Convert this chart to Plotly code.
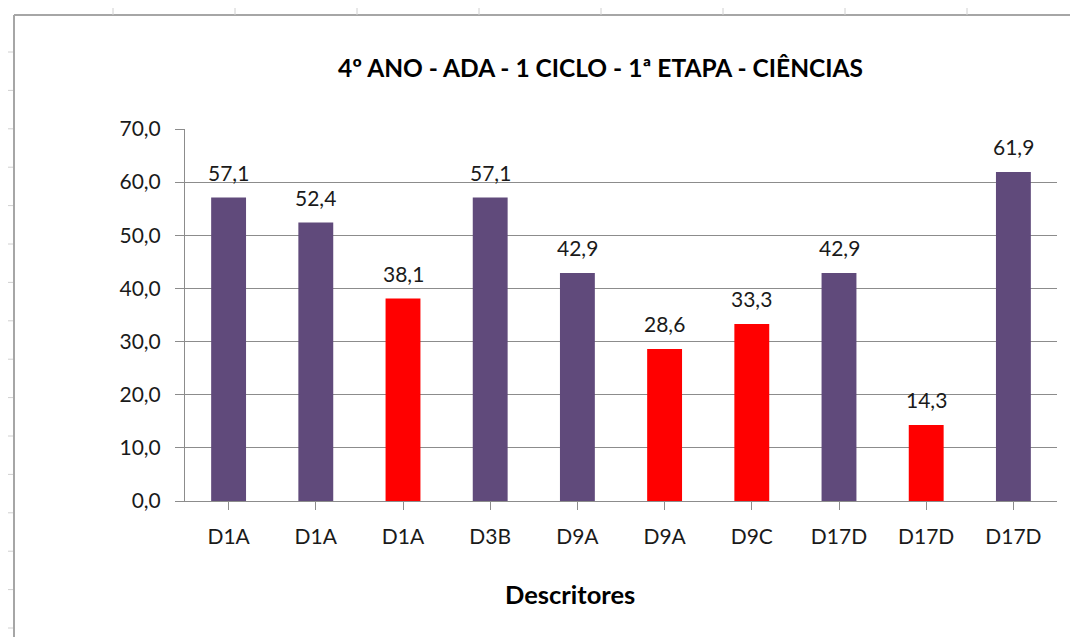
import plotly.graph_objects as go

categories = ["D1A", "D1A", "D1A", "D3B", "D9A", "D9A", "D9C", "D17D", "D17D", "D17D"]
values = [57.1, 52.4, 38.1, 57.1, 42.9, 28.6, 33.3, 42.9, 14.3, 61.9]
bar_colors = ["#604A7B", "#604A7B", "#FF0000", "#604A7B", "#604A7B",
              "#FF0000", "#FF0000", "#604A7B", "#FF0000", "#604A7B"]
y_ticks = [0, 10, 20, 30, 40, 50, 60, 70]

# the page body has an 8px margin; lay out in page pixels and shift
O = 8
W, H = 1078 - O, 637 - O
PL, PR, PT, PB = 185, 1057, 129, 501  # plot area in page pixels
L, T = PL - O, PT - O
R, B = W - (PR - O), H - (PB - O)
PW, PH = PR - PL, PB - PT
FONT = "Lato, 'Open Sans', sans-serif"
TXT = "#1a1a1a"
GRID = "#8c8c8c"

xs = list(range(len(categories)))

fig = go.Figure()
fig.add_trace(go.Bar(
    x=xs, y=values, marker=dict(color=bar_colors, line=dict(width=0)),
    width=0.4, hoverinfo="skip", showlegend=False,
))

for x, v in zip(xs, values):
    fig.add_annotation(
        x=x, y=v, text=f"{v:.1f}".replace(".", ","), showarrow=False,
        yanchor="bottom", yshift=11, font=dict(family=FONT, size=21, color=TXT),
    )

def px_x(p):
    return (p - PL) / PW

def px_y(p):
    return 1 - (p - PT) / PH

shapes = []
shapes.append(dict(type="line", xref="paper", yref="paper",
                   x0=px_x(14), x1=px_x(14), y0=px_y(640), y1=px_y(15),
                   line=dict(color="#a6a6a6", width=2)))
shapes.append(dict(type="line", xref="paper", yref="paper",
                   x0=px_x(14), x1=px_x(1080), y0=px_y(15), y1=px_y(15),
                   line=dict(color="#a6a6a6", width=2)))
for gx in [113, 235, 357, 479, 601, 723, 845, 967]:
    shapes.append(dict(type="line", xref="paper", yref="paper",
                       x0=px_x(gx), x1=px_x(gx), y0=px_y(8), y1=px_y(15),
                       line=dict(color="#d0d0d0", width=1)))
for k in range(16):
    gy = 52 + k * 38.4
    shapes.append(dict(type="line", xref="paper", yref="paper",
                       x0=px_x(8), x1=px_x(13), y0=px_y(gy), y1=px_y(gy),
                       line=dict(color="#d0d0d0", width=1)))

fig.update_layout(
    width=W, height=H,
    margin=dict(l=L, r=R, t=T, b=B, pad=0),
    paper_bgcolor="white", plot_bgcolor="white",
    separators=",.",
    shapes=shapes,
    font=dict(family=FONT, color=TXT),
)

fig.add_annotation(
    text="<b>4º ANO - ADA - 1 CICLO - 1ª ETAPA - CIÊNCIAS</b>",
    xref="paper", yref="paper", x=px_x(600), y=px_y(68),
    showarrow=False, font=dict(family=FONT, size=24.5, color="#000000"),
    xanchor="center", yanchor="middle",
)
fig.add_annotation(
    text="<b>Descritores</b>",
    xref="paper", yref="paper", x=px_x(570), y=px_y(594),
    showarrow=False, font=dict(family=FONT, size=25.5, color="#000000"),
    xanchor="center", yanchor="middle",
)

fig.update_xaxes(
    range=[-0.5, len(categories) - 0.5],
    tickvals=xs, ticktext=categories,
    ticks="outside", tickson="boundaries", ticklen=8, tickcolor=GRID,
    ticklabelstandoff=9,
    showline=True, linecolor=GRID, linewidth=1,
    showgrid=False, zeroline=False,
    tickfont=dict(family=FONT, size=21, color=TXT),
    fixedrange=True,
)
fig.update_yaxes(
    range=[0, 70], tickvals=y_ticks, tickformat=".1f",
    ticks="outside", ticklen=9, tickcolor=GRID,
    ticklabelstandoff=10,
    showline=True, linecolor=GRID, linewidth=1,
    showgrid=True, gridcolor=GRID, gridwidth=1,
    zeroline=False,
    tickfont=dict(family=FONT, size=21, color=TXT),
    fixedrange=True,
)

fig.write_html("out.html", config={"displayModeBar": False})
